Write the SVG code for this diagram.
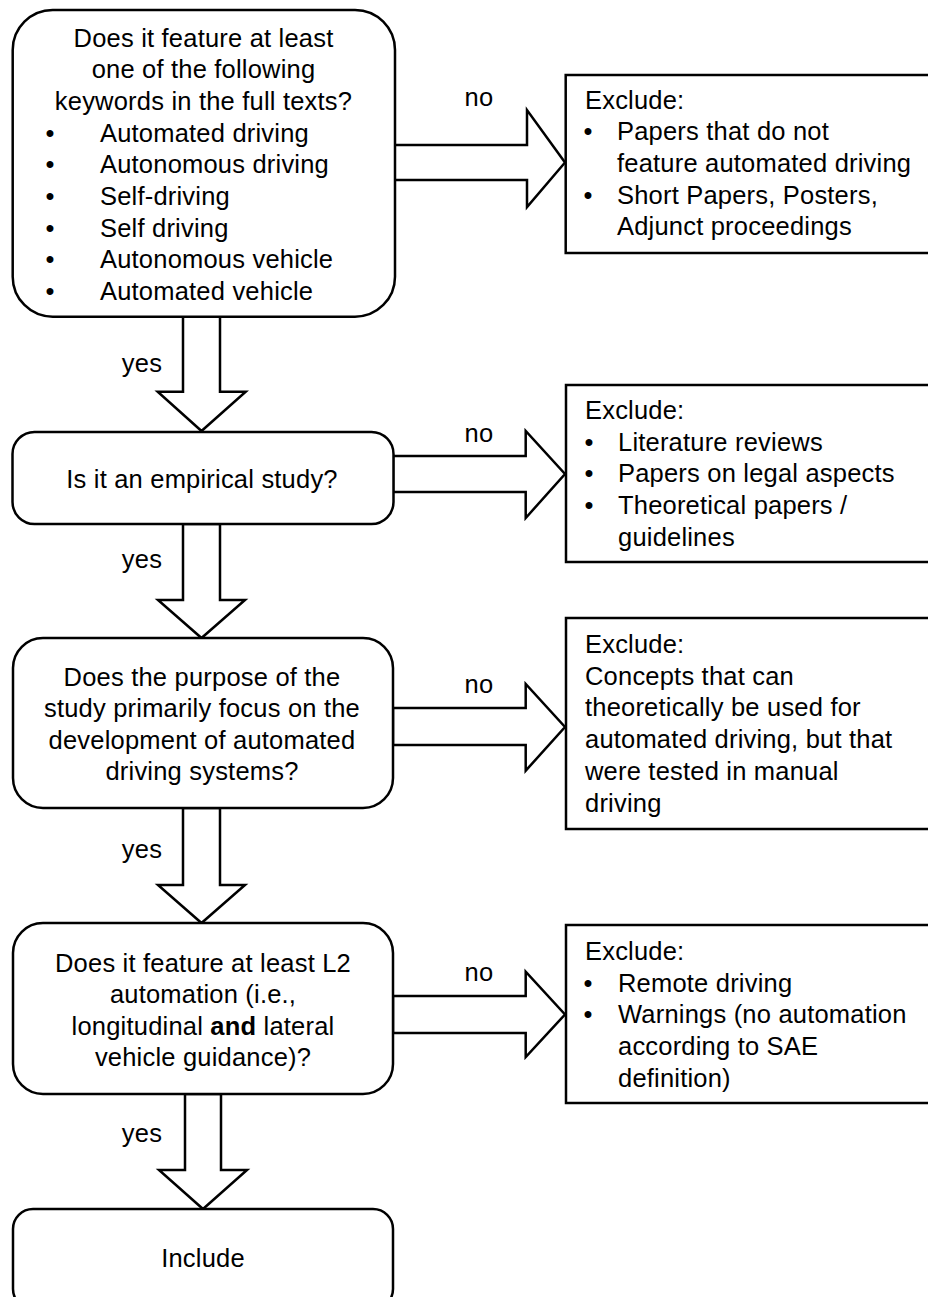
<svg xmlns="http://www.w3.org/2000/svg" width="928" height="1297" viewBox="0 0 928 1297">
<style>
  .box { fill: #fff; stroke: #000; stroke-width: 2.5; }
  .arr { fill: #fff; stroke: #000; stroke-width: 2.5; stroke-linejoin: miter; }
  text { font-family: "Liberation Sans", Arial, sans-serif; font-size: 25.5px; fill: #000; letter-spacing: 0.2px; }
  .c { text-anchor: middle; }
  .b { text-anchor: middle; }
</style>
<rect x="0" y="0" width="928" height="1297" fill="#fff"/>

<g id="connectors">
  <polygon class="arr" points="183,316.7 220,316.7 220,391.7 245.7,391.7 201.5,431 157.7,391.7 183,391.7"/>
  <polygon class="arr" points="183,524 220,524 220,600 245,600 201.5,638 158,600 183,600"/>
  <polygon class="arr" points="183,808 220,808 220,885 245,885 201.5,923 158,885 183,885"/>
  <polygon class="arr" points="185,1094 221,1094 221,1170 247,1170 203,1209 159,1170 185,1170"/>
  <polygon class="arr" points="394,145 527,145 527,110 565,162.5 527,207 527,180 394,180"/>
  <polygon class="arr" points="393,456 525.7,456 525.7,431 565,474 525.7,518 525.7,492 393,492"/>
  <polygon class="arr" points="393,708 525.7,708 525.7,684 565,727 525.7,770.7 525.7,745 393,745"/>
  <polygon class="arr" points="393,996 525.7,996 525.7,971.7 565,1014.5 525.7,1057 525.7,1033 393,1033"/>
  <text x="142" y="372" class="c">yes</text>
  <text x="142" y="568" class="c">yes</text>
  <text x="142" y="858" class="c">yes</text>
  <text x="142" y="1141.7" class="c">yes</text>
  <text x="479" y="106" class="c">no</text>
  <text x="479" y="441.7" class="c">no</text>
  <text x="479" y="693" class="c">no</text>
  <text x="479" y="981" class="c">no</text>
</g>

<g id="q1">
  <rect class="box" x="12.7" y="10" width="382.3" height="306.7" rx="40" ry="40"/>
  <text x="203.5" y="46.5" class="c">Does it feature at least</text>
  <text x="203.5" y="78.2" class="c">one of the following</text>
  <text x="203.5" y="109.9" class="c">keywords in the full texts?</text>
  <text x="50" y="141.6" class="b">•</text><text x="100" y="141.6">Automated driving</text>
  <text x="50" y="173.3" class="b">•</text><text x="100" y="173.3">Autonomous driving</text>
  <text x="50" y="205" class="b">•</text><text x="100" y="205">Self-driving</text>
  <text x="50" y="236.7" class="b">•</text><text x="100" y="236.7">Self driving</text>
  <text x="50" y="268.4" class="b">•</text><text x="100" y="268.4">Autonomous vehicle</text>
  <text x="50" y="300.1" class="b">•</text><text x="100" y="300.1">Automated vehicle</text>
</g>

<g id="q2">
  <rect class="box" x="12.5" y="432" width="381" height="92" rx="22" ry="22"/>
  <text x="202" y="488" class="c">Is it an empirical study?</text>
</g>

<g id="q3">
  <rect class="box" x="13" y="638" width="380" height="170" rx="30" ry="30"/>
  <text x="202" y="686" class="c">Does the purpose of the</text>
  <text x="202" y="717.3" class="c">study primarily focus on the</text>
  <text x="202" y="748.6" class="c">development of automated</text>
  <text x="202" y="780" class="c">driving systems?</text>
</g>

<g id="q4">
  <rect class="box" x="13" y="923" width="380" height="171" rx="30" ry="30"/>
  <text x="203" y="971.5" class="c">Does it feature at least L2</text>
  <text x="203" y="1003" class="c">automation (i.e.,</text>
  <text x="203" y="1034.5" class="c">longitudinal <tspan font-weight="bold">and</tspan> lateral</text>
  <text x="203" y="1066" class="c">vehicle guidance)?</text>
</g>

<g id="include">
  <rect class="box" x="13" y="1209" width="380" height="100" rx="20" ry="20"/>
  <text x="203" y="1266.7" class="c">Include</text>
</g>

<g id="ex1">
  <rect class="box" x="565.7" y="75" width="380" height="178"/>
  <text x="585" y="108.5">Exclude:</text>
  <text x="588" y="140.2" class="b">•</text><text x="617" y="140.2">Papers that do not</text>
  <text x="617" y="171.9">feature automated driving</text>
  <text x="588" y="203.6" class="b">•</text><text x="617" y="203.6">Short Papers, Posters,</text>
  <text x="617" y="235.3">Adjunct proceedings</text>
</g>

<g id="ex2">
  <rect class="box" x="566" y="385" width="380" height="177"/>
  <text x="585" y="419">Exclude:</text>
  <text x="589" y="450.7" class="b">•</text><text x="618" y="450.7">Literature reviews</text>
  <text x="589" y="482.4" class="b">•</text><text x="618" y="482.4">Papers on legal aspects</text>
  <text x="589" y="514.1" class="b">•</text><text x="618" y="514.1">Theoretical papers /</text>
  <text x="618" y="545.8">guidelines</text>
</g>

<g id="ex3">
  <rect class="box" x="566" y="618" width="380" height="211"/>
  <text x="585" y="653">Exclude:</text>
  <text x="585" y="684.7">Concepts that can</text>
  <text x="585" y="716.4">theoretically be used for</text>
  <text x="585" y="748.1">automated driving, but that</text>
  <text x="585" y="779.8">were tested in manual</text>
  <text x="585" y="811.5">driving</text>
</g>

<g id="ex4">
  <rect class="box" x="566" y="925" width="380" height="178"/>
  <text x="585" y="960">Exclude:</text>
  <text x="588" y="991.7" class="b">•</text><text x="618" y="991.7">Remote driving</text>
  <text x="588" y="1023.4" class="b">•</text><text x="618" y="1023.4">Warnings (no automation</text>
  <text x="618" y="1055.1">according to SAE</text>
  <text x="618" y="1086.8">definition)</text>
</g>
</svg>
